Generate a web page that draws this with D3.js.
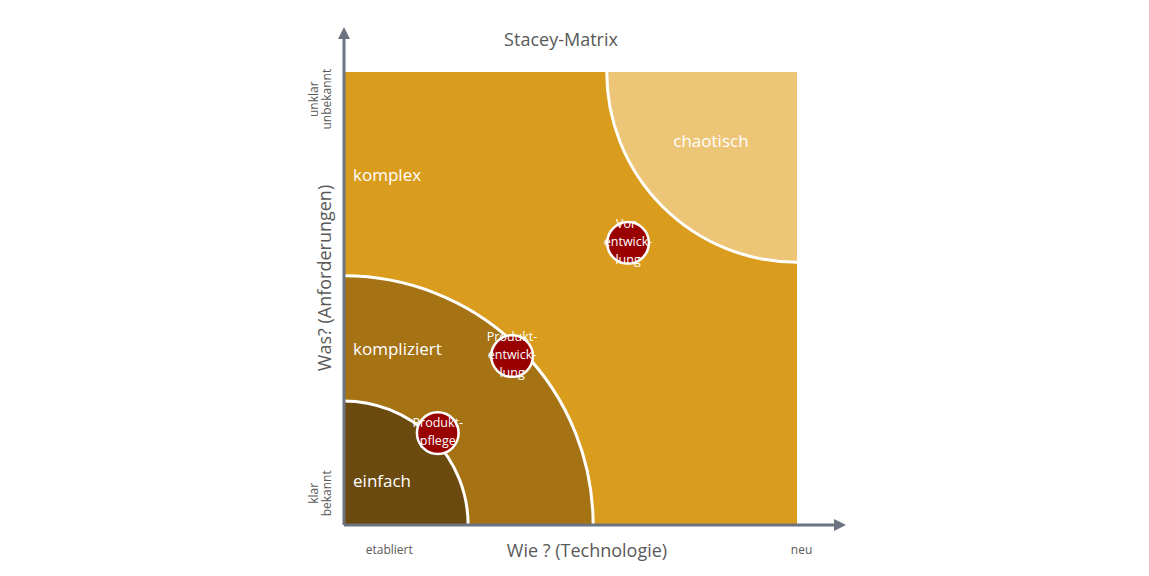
<!DOCTYPE html><html><head><meta charset="utf-8">
<script src="https://cdn.jsdelivr.net/npm/d3@7"></script>
<style>body{margin:0;background:#fff}text{font-family:"Open Sans",sans-serif}</style></head><body>
<svg width="1149" height="576"></svg>
<script>
const zones=[{name:"kompliziert",r:0.55,color:"#A57314"},{name:"einfach",r:0.274,color:"#6B4A10"}];
const chaos={name:"chaotisch",r:0.42,color:"#EDC577"};
const zoneLabels=[{t:"komplex",x:0.02,y:0.77},{t:"kompliziert",x:0.02,y:0.385},{t:"einfach",x:0.02,y:0.095},{t:"chaotisch",x:0.81,y:0.845}];
const projects=[{lines:["Produkt-","pflege"],x:0.207,y:0.203},{lines:["Produkt-","entwick-","lung"],x:0.371,y:0.373},{lines:["Vor-","entwick-","lung"],x:0.627,y:0.623}];
const projR=0.09;
const xTicks=[{t:"etabliert",v:0.1},{t:"neu",v:1.01}];
const yTicks=[{t:["klar","bekannt"],v:0.07},{t:["unklar","unbekannt"],v:0.94}];
const svg=d3.select("svg");
const x=d3.scaleLinear([0,1],[344,797]), y=d3.scaleLinear([0,1],[525,72]);
const k=x(1)-x(0);
svg.append("defs").append("clipPath").attr("id","c").append("rect").attr("x",x(0)).attr("y",y(1)).attr("width",k).attr("height",k);
const g=svg.append("g").attr("clip-path","url(#c)");
g.append("rect").attr("x",x(0)).attr("y",y(1)).attr("width",k).attr("height",k).attr("fill","#D99C1C");
g.append("circle").attr("cx",x(1)).attr("cy",y(1)).attr("r",chaos.r*k).attr("fill",chaos.color).attr("stroke","#fff").attr("stroke-width",3);
g.selectAll(".z").data(zones).join("circle").attr("cx",x(0)).attr("cy",y(0)).attr("r",d=>d.r*k).attr("fill",d=>d.color).attr("stroke","#fff").attr("stroke-width",3);
svg.selectAll(".zl").data(zoneLabels).join("text").attr("x",d=>x(d.x)).attr("y",d=>y(d.y)).attr("fill","#fff").attr("font-size",17).attr("text-anchor",d=>d.t=="chaotisch"?"middle":"start").attr("dominant-baseline","middle").text(d=>d.t);
const p=svg.selectAll(".p").data(projects).join("g").attr("transform",d=>`translate(${x(d.x)},${y(d.y)})`);
p.append("circle").attr("r",projR*k/2*0.92*2/1.8).attr("fill","#990000").attr("stroke","#fff").attr("stroke-width",2.5);
p.each(function(d){const n=d.lines.length;d3.select(this).selectAll("text").data(d.lines).join("text").attr("text-anchor","middle").attr("dominant-baseline","middle").attr("fill","#fff").attr("font-size",12.5).attr("y",(e,i)=>(i-(n-1)/2)*18).text(e=>e);});
const ac="#6B7380";
svg.append("line").attr("x1",x(0)).attr("y1",y(0)).attr("x2",838).attr("y2",y(0)).attr("stroke",ac).attr("stroke-width",3);
svg.append("path").attr("d",`M846,${y(0)}L834,${y(0)-6}L834,${y(0)+6}Z`).attr("fill",ac);
svg.append("line").attr("x1",x(0)).attr("y1",y(0)).attr("x2",x(0)).attr("y2",36).attr("stroke",ac).attr("stroke-width",3);
svg.append("path").attr("d",`M${x(0)},27L${x(0)-6},39L${x(0)+6},39Z`).attr("fill",ac);
svg.append("text").attr("x",561).attr("y",46).attr("text-anchor","middle").attr("font-size",18).attr("fill","#595959").text("Stacey-Matrix");
svg.append("text").attr("x",587).attr("y",557).attr("text-anchor","middle").attr("font-size",18).attr("fill","#595959").text("Wie ? (Technologie)");
svg.append("text").attr("transform","translate(331,278) rotate(-90)").attr("text-anchor","middle").attr("font-size",18).attr("fill","#595959").text("Was? (Anforderungen)");
svg.selectAll(".xt").data(xTicks).join("text").attr("x",d=>x(d.v)).attr("y",554).attr("text-anchor","middle").attr("font-size",12).attr("fill","#595959").text(d=>d.t);
yTicks.forEach(d=>{const t=svg.append("text").attr("transform",`translate(318,${y(d.v)}) rotate(-90)`).attr("text-anchor","middle").attr("font-size",12).attr("fill","#595959");d.t.forEach((s,i)=>t.append("tspan").attr("x",0).attr("dy",i?13:0).text(s));});
</script></body></html>
